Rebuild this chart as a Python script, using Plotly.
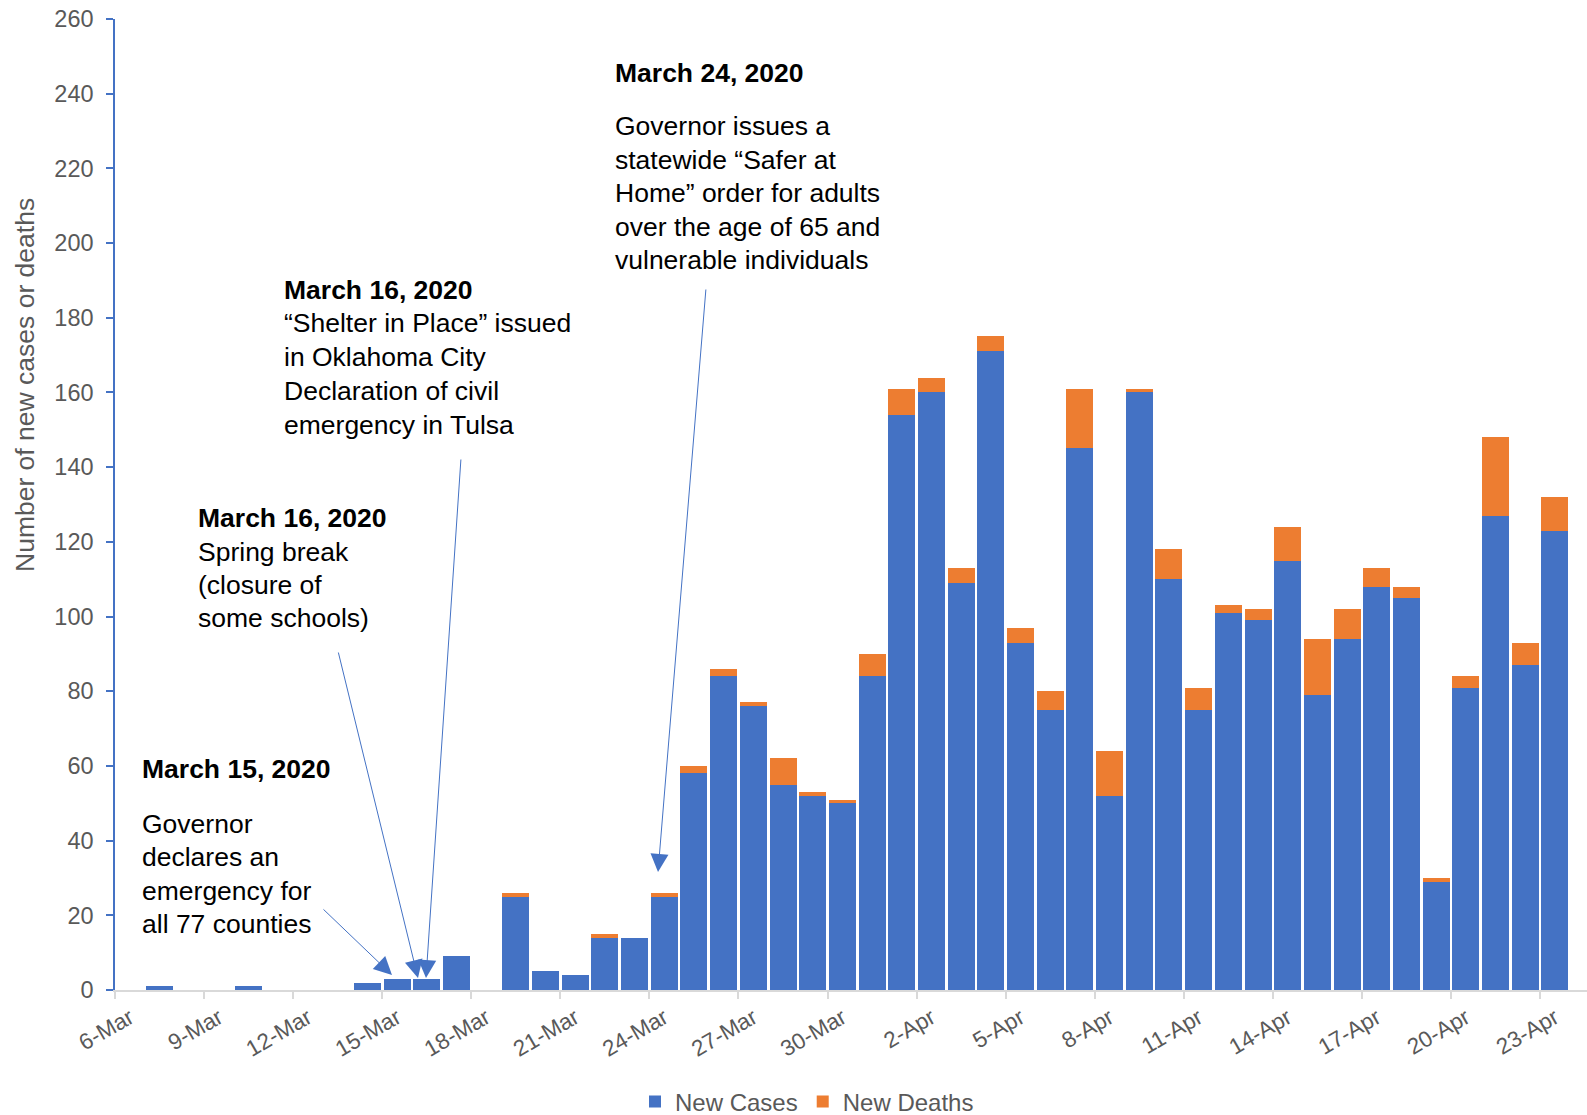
import pandas as pd
import plotly.graph_objects as go

# ---------------- data ----------------
dates = pd.date_range("2020-03-06", "2020-04-23", freq="D")
categories = [f"{d.day}-{d.strftime('%b')}" for d in dates]

new_cases = [0, 1, 0, 0, 1, 0, 0, 0, 2, 3, 3, 9, 0, 25, 5, 4, 14, 14, 25,
             58, 84, 76, 55, 52, 50, 84,
             154, 160, 109, 171, 93, 75, 145, 52, 160, 110, 75, 101, 99, 115,
             79, 94, 108, 105, 29, 81, 127, 87, 123]
new_deaths = [0, 0, 0, 0, 0, 0, 0, 0, 0, 0, 0, 0, 0, 1, 0, 0, 1, 0, 1,
              2, 2, 1, 7, 1, 1, 6,
              7, 4, 4, 4, 4, 5, 16, 12, 1, 8, 6, 2, 3, 9,
              15, 8, 5, 3, 1, 3, 21, 6, 9]

series_names = ["New Cases", "New Deaths"]
y_title = "Number of new cases or deaths"

# text blocks: (lines, left px, first-line centre px, line spacing px); first line bold
notes = [
    (["March 24, 2020"], 613, 73, 33.4),
    (["Governor issues a", "statewide “Safer at", "Home” order for adults",
      "over the age of 65 and", "vulnerable individuals"], 613, 126.5, 33.4),
    (["March 16, 2020", "“Shelter in Place” issued", "in Oklahoma City",
      "Declaration of civil", "emergency in Tulsa"], 282, 289.5, 33.9),
    (["March 16, 2020", "Spring break", "(closure of", "some schools)"], 196, 518.2, 33.4),
    (["March 15, 2020"], 139.5, 769.2, 33.4),
    (["Governor", "declares an", "emergency for", "all 77 counties"], 139.5, 824, 33.4),
]
bold_first = [True, False, True, True, True, False]

# arrows: (tail px, tip px)
arrows = [
    ((706, 288), (658, 872)),
    ((461, 458), (426, 978)),
    ((338, 651), (418, 978)),
    ((322, 908), (392, 975)),
]

BLUE = "#4472C4"
ORANGE = "#ED7D31"
GRAY = "#595959"
FONT = "Liberation Sans, Arial, sans-serif"

W, H = 1587, 1115
ML, MR, MT, MB = 115, 0, 19, 125
PW, PH = W - ML - MR, H - MT - MB


def px2paper(x, y):
    return (x - ML) / PW, (H - MB - y) / PH


fig = go.Figure()
fig.add_trace(go.Bar(x=categories, y=new_cases, name=series_names[0],
                     marker=dict(color=BLUE, line=dict(width=0))))
fig.add_trace(go.Bar(x=categories, y=new_deaths, name=series_names[1],
                     marker=dict(color=ORANGE, line=dict(width=0))))

annotations = []
for (lines, x, y0, dy), bold in zip(notes, bold_first):
    for i, line in enumerate(lines):
        txt = f"<b>{line}</b>" if (bold and i == 0) else line
        px_, py_ = px2paper(x, y0 + i * dy)
        annotations.append(dict(text=txt, x=px_, y=py_, xref="paper", yref="paper",
                                xanchor="left", yanchor="middle", align="left",
                                showarrow=False,
                                font=dict(family=FONT, size=26.5, color="black")))
for (tx, ty), (hx, hy) in arrows:
    px_, py_ = px2paper(hx, hy)
    annotations.append(dict(text="", x=px_, y=py_, xref="paper", yref="paper",
                            ax=tx - hx, ay=ty - hy, axref="pixel", ayref="pixel",
                            showarrow=True, arrowhead=2, arrowsize=3.6,
                            arrowwidth=1, arrowcolor=BLUE, standoff=0))
tx_, ty_ = px2paper(25, 385)
annotations.append(dict(text=y_title, x=tx_, y=ty_, xref="paper", yref="paper",
                        xanchor="center", yanchor="middle", textangle=-90,
                        showarrow=False,
                        font=dict(family=FONT, size=26.5, color=GRAY)))

fig.update_layout(
    width=W, height=H, autosize=False,
    margin=dict(l=ML, r=MR, t=MT, b=MB, pad=0),
    barmode="stack", bargap=0.09,
    paper_bgcolor="white", plot_bgcolor="white",
    font=dict(family=FONT, color=GRAY),
    showlegend=True,
    legend=dict(orientation="h", xref="container", yref="container",
                x=807 / W, y=1 - 1102 / H, xanchor="center", yanchor="middle",
                font=dict(family=FONT, size=24, color=GRAY),
                traceorder="normal", itemwidth=30),
    annotations=annotations,
    xaxis=dict(type="category", range=[-0.5, 49.08], tickson="boundaries",
               tickmode="linear", tick0=0, dtick=3, tickangle=-30,
               ticks="outside", ticklen=7, tickwidth=1.5, tickcolor="#D9D9D9",
               showline=True, linecolor="#D9D9D9", linewidth=2,
               showgrid=False, zeroline=False, automargin=False,
               ticklabelstandoff=4,
               tickfont=dict(family=FONT, size=22.5, color=GRAY)),
    yaxis=dict(range=[0, 260], tickmode="linear", tick0=0, dtick=20,
               ticks="outside", ticklen=7, tickwidth=1.5, tickcolor=BLUE,
               showline=True, linecolor=BLUE, linewidth=1.5,
               showgrid=False, zeroline=False, ticklabelstandoff=8,
               automargin=False,
               tickfont=dict(family=FONT, size=23.5, color=GRAY)),
)

fig.write_html("out.html", config={"displayModeBar": False},
               post_script="document.body.style.margin='0';")
